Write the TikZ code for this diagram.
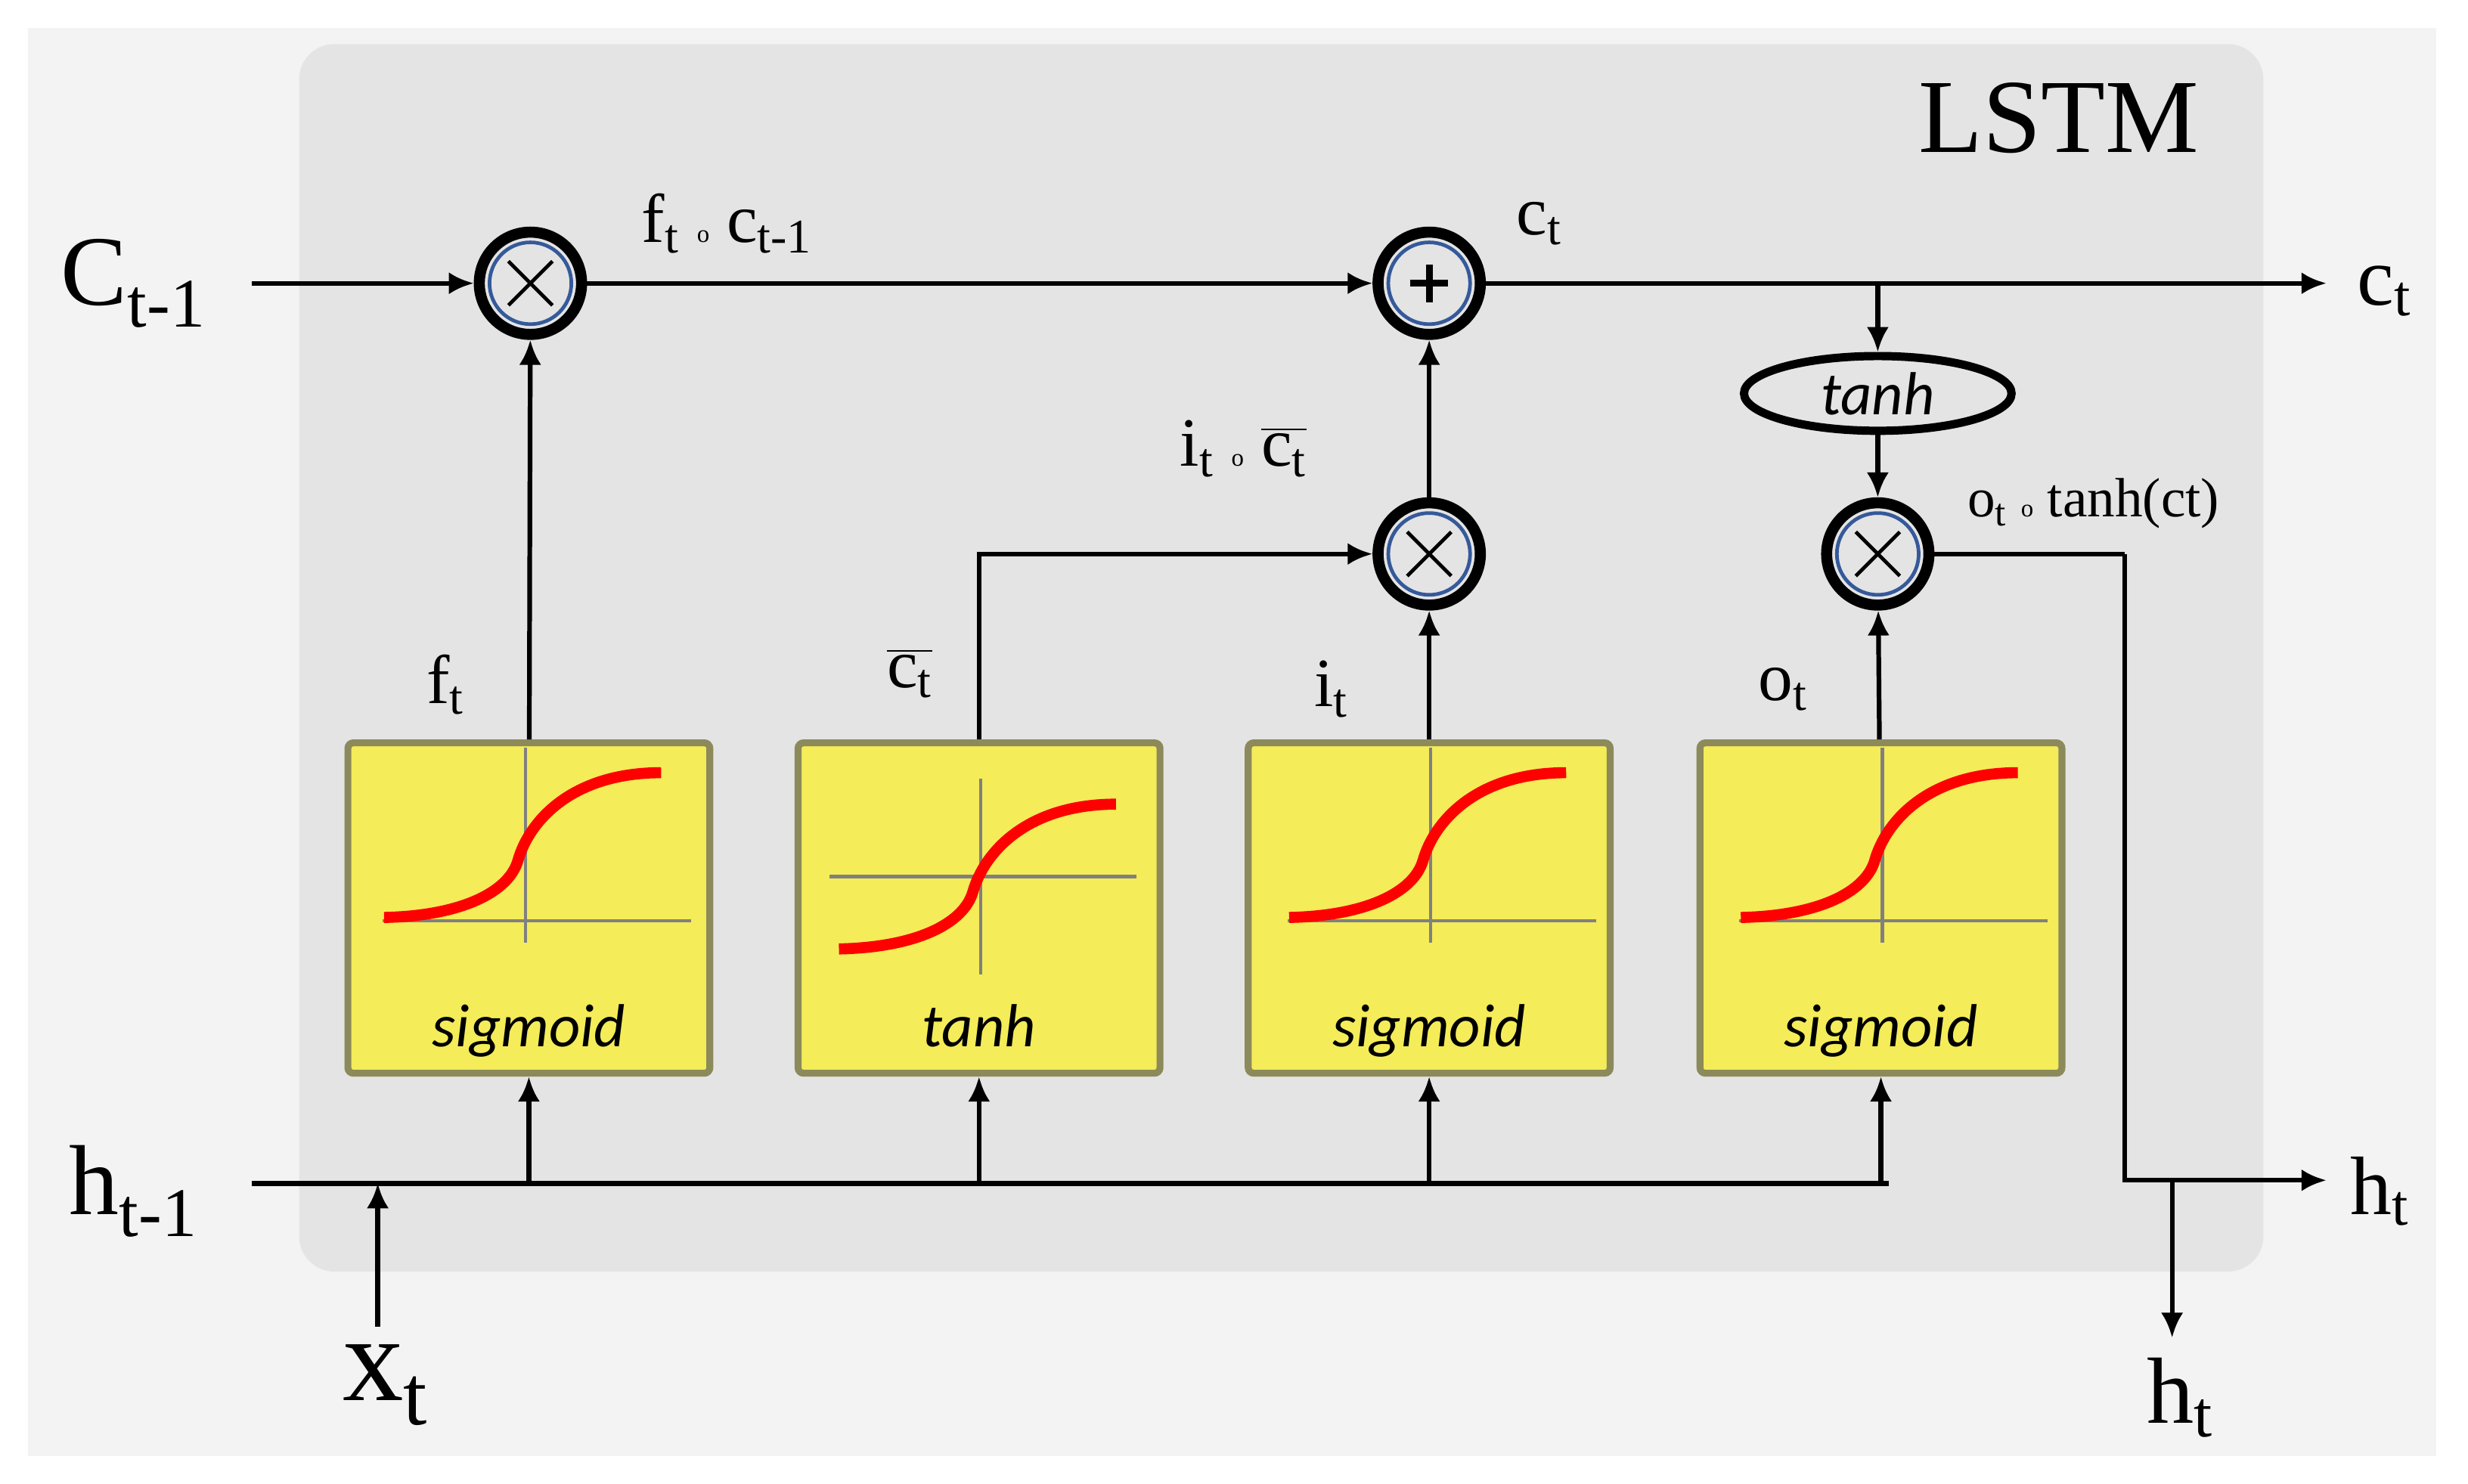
\documentclass[tikz,border=0pt]{standalone}
\usepackage{fontspec}
\setmainfont{Liberation Serif}
\newfontfamily\calib{Carlito}
\usetikzlibrary{arrows.meta,shapes.geometric}
\definecolor{bgout}{HTML}{F3F3F3}
\definecolor{bgin}{HTML}{E4E4E4}
\definecolor{boxy}{HTML}{F4EC58}
\definecolor{boxb}{HTML}{8C8A5A}
\definecolor{ringb}{HTML}{35599A}
\tikzset{x=0.02cm,y=-0.02cm,
  wire/.style={line width=1.7pt},
  arr/.style={wire,-{Latex[length=9pt,width=8pt]}},
  op/.style={circle,draw=black,line width=4pt,minimum size=1.3cm,inner sep=0pt},
  gate/.style={rectangle,rounded corners=2pt,draw=boxb,line width=2.5pt,fill=boxy,minimum width=4.6cm,minimum height=4.2cm,inner sep=0pt},
  lab/.style={font=\fontsize{25}{28}\selectfont,inner sep=0pt},
  big/.style={font=\fontsize{36}{40}\selectfont,inner sep=0pt},
  glab/.style={font=\calib\itshape\fontsize{22}{24}\selectfont,inner sep=0pt}}
\newcommand{\mycurve}[2]{%
  \begin{scope}[shift={#1}]
  \ifnum#2=0
    \draw[gray,line width=1.2pt] (1,-82) -- (1,42);
    \draw[gray,line width=1.2pt] (-90,28) -- (106,28);
  \else
    \draw[gray,line width=1.2pt] (1,-82) -- (1,42);
    \draw[gray,line width=1.2pt] (-95,-20) -- (100,-20);
  \fi
  \draw[red,line width=4pt] (-89,26) .. controls (-40,25) and (-10,10) .. (-4,-10) .. controls (3,-35) and (30,-66) .. (87,-66);
  \end{scope}}
\begin{document}
\begin{tikzpicture}
\useasboundingbox (0,0) rectangle (1568,943);
\fill[white] (0,0) rectangle (1568,943);
\fill[bgout] (18,18) rectangle (1548,925);
\fill[bgin,rounded corners=0.45cm] (190,28) rectangle (1438,808);
\node[font=\fontsize{38}{40}\selectfont,inner sep=0pt] (lstm) at (1308,75) {LSTM};

% gates
\node[gate] (b1) at (336,577) {};
\node[gate] (b2) at (622,577) {};
\node[gate] (b3) at (908,577) {};
\node[gate] (b4) at (1195,577) {};
\mycurve{(333,557)}{0}
\mycurve{(622,577)}{1}
\mycurve{(908,557)}{0}
\mycurve{(1195,557)}{0}
\node[glab] (g1) at (336,655) {sigmoid};
\node[glab] (g2) at (622,652) {tanh};
\node[glab] (g3) at (908,655) {sigmoid};
\node[glab] (g4) at (1195,655) {sigmoid};

% operators
\node[op] (m1) at (337,180) {};
\node[op] (p) at (908,180) {};
\node[op] (m2) at (908,352) {};
\node[op] (m3) at (1193,352) {};
\foreach \n in {m1,p,m2,m3}{\draw[ringb,line width=1.3pt] (\n) circle (0.52cm);}
\foreach \n in {m1,m2,m3}{\draw[line width=1.3pt] ([shift={(-14,-14)}]\n.center) -- ([shift={(14,14)}]\n.center) ([shift={(-14,14)}]\n.center) -- ([shift={(14,-14)}]\n.center);}
\draw[line width=2.5pt] ([shift={(-12,0)}]p.center) -- ([shift={(12,0)}]p.center) ([shift={(0,-12)}]p.center) -- ([shift={(0,12)}]p.center);
\node[ellipse,draw,line width=3pt,minimum width=3.4cm,minimum height=0.95cm,inner sep=0pt,font=\calib\itshape\fontsize{22}{24}\selectfont] (th) at (1193,250) {tanh};

% coordinates
\coordinate (cin) at (160,180);
\coordinate (cout) at (1478,180);
\coordinate (br) at (1193,180);
\coordinate (hin) at (160,752);
\coordinate (hend) at (1200,752);
\coordinate (hout) at (1478,750);
\coordinate (hc) at (1350,352);
\coordinate (hd) at (1380,750);
\coordinate (hdn) at (1380,850);
\coordinate (xs) at (240,843);
\coordinate (xe) at (240,752);

% connectors
\draw[arr] (cin) -- (m1);
\draw[arr] (m1) -- (p);
\draw[arr] (p) -- (cout);
\draw[arr] (br) -- (th);
\draw[arr] (th) -- (m3);
\draw[wire] (m3) -- (hc);
\draw[arr] (hc) |- (hout);
\draw[arr] (hd) -- (hdn);
\draw[arr] (b1) -- (m1);
\draw[arr] (b2.north) |- (m2);
\draw[arr] (b3) -- (m2);
\draw[arr] (m2) -- (p);
\draw[arr] (b4) -- (m3);
\draw[wire] (hin) -- (hend);
\foreach \b in {b1,b2,b3,b4}{\draw[arr] (\b.south |- hin) -- (\b.south);}
\draw[arr] (xs) -- (xe);

% labels
\node[big] (lc) at (85,180) {C\textsubscript{t-1}};
\node[big] (lh) at (85,757) {h\textsubscript{t-1}};
\node[big,font=\fontsize{44}{46}\selectfont] (lx) at (245,880) {x\textsubscript{t}};
\node[lab,font=\fontsize{30}{32}\selectfont] (lco) at (1515,185) {c\textsubscript{t}};
\node[lab,font=\fontsize{30}{32}\selectfont] (lho) at (1512,757) {h\textsubscript{t}};
\node[lab,font=\fontsize{34}{36}\selectfont] (lhd) at (1385,888) {h\textsubscript{t}};
\node[lab] (lfc) at (462,142) {f\textsubscript{t} {\small o} c\textsubscript{t-1}};
\node[lab] (lct) at (978,142) {c\textsubscript{t}};
\node[lab] (lic) at (790,285) {i\textsubscript{t} {\small o} \(\overline{\hbox{c\textsubscript{t}}}\)};
\node[lab,font=\fontsize{20}{22}\selectfont] (lot) at (1330,320) {o\textsubscript{t} {\small o} tanh(ct)};
\node[lab] (lf) at (283,435) {f\textsubscript{t}};
\node[lab] (lcb) at (578,428) {\(\overline{\hbox{c\textsubscript{t}}}\)};
\node[lab] (li) at (846,438) {i\textsubscript{t}};
\node[lab] (lo) at (1133,438) {o\textsubscript{t}};
\end{tikzpicture}
\end{document}
